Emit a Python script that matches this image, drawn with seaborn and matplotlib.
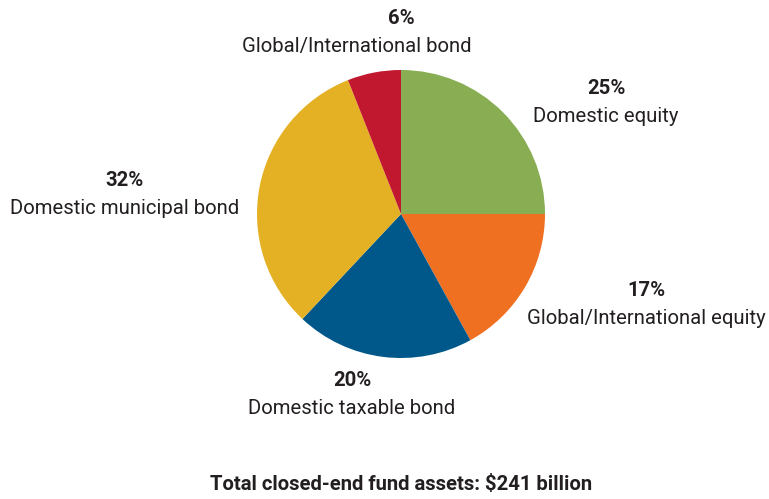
import matplotlib
matplotlib.use("Agg")
import matplotlib.pyplot as plt
import seaborn as sns
from matplotlib import font_manager

sns.set_theme(style="white")
names = {f.name for f in font_manager.fontManager.ttflist}
fam = "Liberation Sans Narrow" if "Liberation Sans Narrow" in names else "Roboto"
plt.rcParams["font.family"] = [fam, "DejaVu Sans"]

categories = ["Domestic equity", "Global/International equity", "Domestic taxable bond",
              "Domestic municipal bond", "Global/International bond"]
shares = [25, 17, 20, 32, 6]
colors = ["#88ad52", "#f07022", "#00578a", "#e3b123", "#c1172f"]
title = "Total closed-end fund assets: $241 billion"

W, H = 769, 499
fig = plt.figure(figsize=(W / 100, H / 100), dpi=100)
ax = fig.add_axes([0, 0, 1, 1])
ax.set_xlim(0, W)
ax.set_ylim(0, H)
ax.set_aspect("equal")
ax.axis("off")

ax.pie(shares, colors=colors, startangle=90, counterclock=False,
       center=(401, H - 214), radius=144, wedgeprops=dict(linewidth=0))
ax.set_xlim(0, W)
ax.set_ylim(0, H)

label_pos = [(606, 88), (646, 291), (352, 380), (125, 180), (401, 18)]
for cat, v, (x, y) in zip(categories, shares, label_pos):
    lx = x
    if cat == "Global/International bond":
        lx = 357
    ax.text(x, H - y, f"{v}%", ha="center", va="center", fontsize=14.6,
            fontweight="bold", color="#231f20")
    ax.text(lx, H - y - 28, cat, ha="center", va="center", fontsize=14.6,
            color="#231f20")

ax.text(401, H - 484, title, ha="center", va="center", fontsize=14.6,
        fontweight="bold", color="#231f20")

fig.savefig("out.png", dpi=100)
